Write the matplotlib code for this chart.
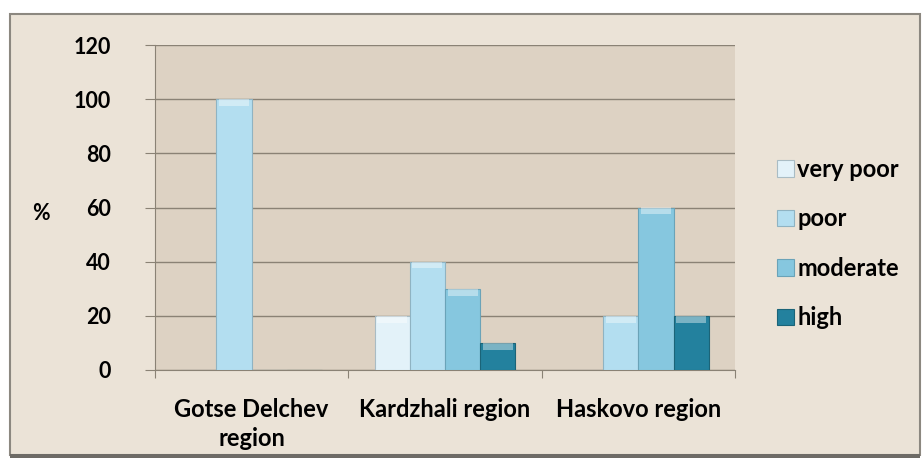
import matplotlib
matplotlib.use("Agg")
import matplotlib.pyplot as plt
from matplotlib.patches import Rectangle
import numpy as np

categories = ["Gotse Delchev\nregion", "Kardzhali region", "Haskovo region"]
series = ["very poor", "poor", "moderate", "high"]
very_poor = [0, 20, 0]
poor = [100, 40, 20]
moderate = [0, 30, 60]
high = [0, 10, 20]
values = [very_poor, poor, moderate, high]
colors = ["#e3f2f9", "#b3def0", "#86c7df", "#23819e"]
edge_colors = ["#a9bcc4", "#8fb3c2", "#6aa3b8", "#1b6478"]
yticks = [0, 20, 40, 60, 80, 100, 120]

plt.rcParams['font.family'] = ['Lato', 'DejaVu Sans']

W, H = 922, 461
fig = plt.figure(figsize=(W / 100, H / 100), dpi=100)
fig.patch.set_facecolor("white")

# outer chart frame
fig.patches.append(Rectangle((10 / W, 1 - 455 / H), 910 / W, 441 / H,
                             transform=fig.transFigure, facecolor="#ebe3d7",
                             edgecolor="#8c8880", linewidth=1.5, zorder=-2))
fig.patches.append(Rectangle((10 / W, 1 - 458 / H), 910 / W, 4 / H,
                             transform=fig.transFigure, facecolor="#6e6b66",
                             edgecolor="none", zorder=-2))

ax = fig.add_axes([155 / W, 1 - 370 / H, (735 - 155) / W, (370 - 45) / H])
ax.set_facecolor("#ddd2c3")

x = np.arange(len(categories))
w = 0.182
for i, (name, vals) in enumerate(zip(series, values)):
    pos = x + (i - 1.5) * w
    ax.bar(pos, vals, width=w, color=colors[i], edgecolor=edge_colors[i],
           linewidth=0.8, label=name, zorder=3)
    # subtle bevel highlight at the top of each bar
    ax.bar(pos, [min(2.5, v) for v in vals], bottom=[v - min(2.5, v) for v in vals],
           width=w * 0.85, color="white", alpha=0.4, linewidth=0, zorder=4)

ax.set_ylim(0, 120)
ax.set_xlim(-0.5, 2.5)
ax.set_yticks(yticks)
ax.set_yticklabels([str(t) for t in yticks], fontsize=15.5, fontweight="bold")
ax.yaxis.grid(True, color="#8a8275", linewidth=1.0, zorder=1)
ax.set_axisbelow(True)

ax.set_xticks([-0.5, 0.5, 1.5, 2.5])
ax.set_xticklabels([])
ax.set_xticks(x, minor=True)
ax.set_xticklabels(categories, minor=True, fontsize=17, fontweight="bold",
                   ha="center", va="top", linespacing=1.35)
ax.tick_params(axis="x", which="minor", length=0, pad=20)
ax.tick_params(axis="x", which="major", length=6, color="#8a8275", direction="out")
ax.tick_params(axis="y", length=7, color="#8a8275", pad=25)

for s in ["top", "right"]:
    ax.spines[s].set_visible(False)
ax.spines["left"].set_color("#8a8275")
ax.spines["bottom"].set_color("#8a8275")

fig.text(41 / W, 1 - 213 / H, "%", fontsize=15.5, fontweight="bold",
         ha="center", va="center")

leg = ax.legend(loc="upper left", bbox_to_anchor=(777 / W, 1 - 158 / H),
                bbox_transform=fig.transFigure, frameon=False,
                prop={"weight": "bold", "size": 17},
                handlelength=0.7, handleheight=0.7, handletextpad=0.15,
                labelspacing=1.12, borderaxespad=0, borderpad=0)

fig.savefig("out.png", dpi=100, facecolor=fig.get_facecolor())
